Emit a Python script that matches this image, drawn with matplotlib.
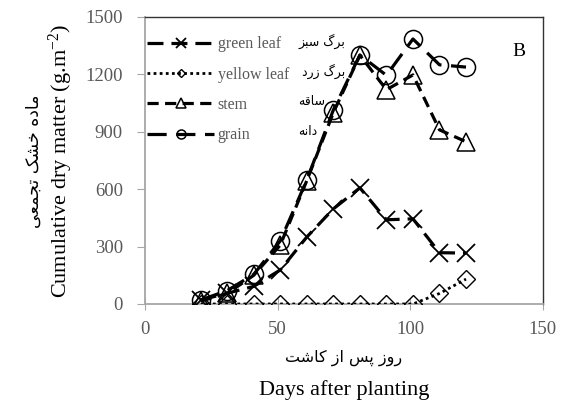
import matplotlib
matplotlib.use("Agg")
import matplotlib.pyplot as plt

# --- data ---
days = [21, 31, 41, 51, 61, 71, 81, 91, 101, 111, 121]
green_leaf = [21, 56, 92, 178, 350, 497, 607, 440, 445, 268, 266]
yellow_leaf = [0, 0, 0, 0, 0, 0, 0, 0, 0, 55, 130]
stem = [15, 55, 150, 308, 645, 1000, 1300, 1120, 1197, 910, 848]
grain = [21, 70, 155, 330, 648, 1014, 1301, 1195, 1385, 1250, 1238]

series_names = ["green leaf", "yellow leaf", "stem", "grain"]
series_fa = ["برگ سبز", "برگ زرد", "ساقه", "دانه"]
xticks = [0, 50, 100, 150]
yticks = [0, 300, 600, 900, 1200, 1500]

# matplotlib 3.10 does no Arabic shaping: pick contextual forms by hand
FORMS = {
    'ا': ('\uFE8D', '\uFE8E'),
    'ب': ('\uFE8F', '\uFE90', '\uFE91', '\uFE92'),
    'پ': ('\uFB56', '\uFB57', '\uFB58', '\uFB59'),
    'ت': ('\uFE95', '\uFE96', '\uFE97', '\uFE98'),
    'ج': ('\uFE9D', '\uFE9E', '\uFE9F', '\uFEA0'),
    'خ': ('\uFEA5', '\uFEA6', '\uFEA7', '\uFEA8'),
    'د': ('\uFEA9', '\uFEAA'),
    'ر': ('\uFEAD', '\uFEAE'),
    'ز': ('\uFEAF', '\uFEB0'),
    'س': ('\uFEB1', '\uFEB2', '\uFEB3', '\uFEB4'),
    'ش': ('\uFEB5', '\uFEB6', '\uFEB7', '\uFEB8'),
    'ع': ('\uFEC9', '\uFECA', '\uFECB', '\uFECC'),
    'ق': ('\uFED5', '\uFED6', '\uFED7', '\uFED8'),
    'ک': ('\uFB8E', '\uFB8F', '\uFB90', '\uFB91'),
    'گ': ('\uFB92', '\uFB93', '\uFB94', '\uFB95'),
    'م': ('\uFEE1', '\uFEE2', '\uFEE3', '\uFEE4'),
    'ن': ('\uFEE5', '\uFEE6', '\uFEE7', '\uFEE8'),
    'ه': ('\uFEE9', '\uFEEA', '\uFEEB', '\uFEEC'),
    'و': ('\uFEED', '\uFEEE'),
    'ی': ('\uFBFC', '\uFBFD', '\uFBFE', '\uFBFF'),
}


def fa(text):
    out = []
    n = len(text)
    for i, c in enumerate(text):
        if c not in FORMS:
            out.append(c)
            continue
        f = FORMS[c]
        prev = text[i - 1] if i > 0 else None
        nxt = text[i + 1] if i + 1 < n else None
        jp = prev in FORMS and len(FORMS[prev]) == 4
        jn = nxt in FORMS and len(f) == 4
        if jp and jn:
            out.append(f[3])
        elif jp:
            out.append(f[1])
        elif jn:
            out.append(f[2])
        else:
            out.append(f[0])
    return ''.join(out)[::-1]


serif = "Liberation Serif"
gray = "#595959"
plt.rcParams["mathtext.fontset"] = "custom"
plt.rcParams["mathtext.rm"] = serif
plt.rcParams["mathtext.it"] = serif + ":italic"

fig = plt.figure(figsize=(5.63, 4.03), dpi=100)
ax = fig.add_axes([0.2575, 0.2457, 0.7069, 0.7122])

ax.plot(days, green_leaf, color="black", lw=2.3, dashes=(5, 2.5),
        marker="x", ms=13, mew=1.3, label=series_names[0], zorder=3)
ax.plot(days, yellow_leaf, color="black", lw=2.0, dashes=(1, 1.2),
        marker="D", ms=9, mew=1.0, mfc="none", label=series_names[1], zorder=3)
ax.plot(days, stem, color="black", lw=2.3, dashes=(3.5, 2),
        marker="^", ms=13, mew=1.1, mfc="none", label=series_names[2], zorder=4)
ax.plot(days, grain, color="black", lw=2.3, dashes=(6, 3),
        marker="o", ms=13, mew=1.1, mfc="none", label=series_names[3], zorder=5)

ax.set_xlim(0, 150)
ax.set_ylim(0, 1500)
ax.set_xticks(xticks)
ax.set_yticks(yticks)
ax.tick_params(axis="x", direction="inout", length=8, color="#a6a6a6",
               labelsize=13.5, labelcolor=gray, pad=8)
ax.tick_params(axis="y", direction="out", length=6, color="#a6a6a6",
               labelsize=13.5, labelcolor=gray, pad=10)
for lab in ax.get_xticklabels() + ax.get_yticklabels():
    lab.set_family(serif)

for s in ["left", "bottom"]:
    ax.spines[s].set_color("#a6a6a6")
    ax.spines[s].set_linewidth(1.3)
for s in ["top", "right"]:
    ax.spines[s].set_color("#333333")
    ax.spines[s].set_linewidth(1.0)

leg = ax.legend(loc="upper left", bbox_to_anchor=(-0.01, 0.955), frameon=False,
                handlelength=4.2, handletextpad=0.2, labelspacing=0.9,
                markerscale=0.5, borderaxespad=0.0,
                prop={"family": serif, "size": 11.5})
for t in leg.get_texts():
    t.set_color(gray)

# persian labels next to the legend entries
fa_pos = [(0.503, 0.915, "right"), (0.503, 0.81, "right"),
          (0.385, 0.705, "left"), (0.385, 0.60, "left")]
for (x, y, ha), txt in zip(fa_pos, series_fa):
    ax.text(x, y, fa(txt), transform=ax.transAxes, ha=ha, va="center",
            fontsize=9, family="DejaVu Sans")

ax.text(0.94, 0.88, "B", transform=ax.transAxes, ha="center", va="center",
        fontsize=14, family=serif)

fig.text(0.611, 0.112, fa("روز پس از کاشت"), ha="center", va="center",
         fontsize=11.5, family="DejaVu Sans")
fig.text(0.611, 0.032, "Days after planting", ha="center", va="center",
         fontsize=16, family=serif)
fig.text(0.06, 0.6, fa("ماده خشک تجمعی"), rotation=90, ha="center", va="center",
         fontsize=12.5, family="DejaVu Sans")
fig.text(0.108, 0.6, "Cumulative dry matter (g.m$^{\\mathrm{-2}}$)", rotation=90,
         ha="center", va="center", fontsize=16, family=serif)

fig.savefig("out.png", dpi=100)
